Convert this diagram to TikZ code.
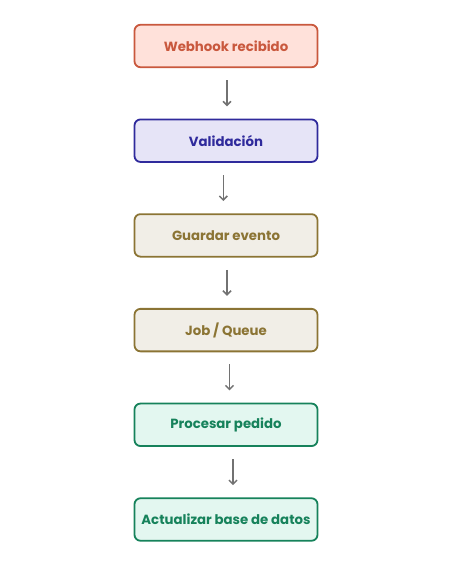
\documentclass[tikz,border=0pt]{standalone}
\usepackage{fontspec}
\setmainfont{Poppins}
\usetikzlibrary{positioning,arrows.meta}

\definecolor{webfill}{HTML}{FFE1DA}
\definecolor{webline}{HTML}{C9583D}
\definecolor{valfill}{HTML}{E6E4F7}
\definecolor{valline}{HTML}{2F2A9C}
\definecolor{jobfill}{HTML}{F1EEE7}
\definecolor{jobline}{HTML}{8B7434}
\definecolor{procfill}{HTML}{E3F7F0}
\definecolor{procline}{HTML}{16825B}
\definecolor{arrowgray}{HTML}{727272}

\begin{document}
\begin{tikzpicture}[x=1pt,y=1pt,node distance=50.4pt,
    box/.style={rectangle,rounded corners=6pt,line width=1.8pt,minimum width=183pt,minimum height=42.5pt,font=\bfseries\fontsize{13.3}{16}\selectfont},
    webbox/.style={box,draw=webline,fill=webfill,text=webline},
    valbox/.style={box,draw=valline,fill=valfill,text=valline},
    jobbox/.style={box,draw=jobline,fill=jobfill,text=jobline},
    procbox/.style={box,draw=procline,fill=procfill,text=procline},
    flow/.style={-{Straight Barb[length=4pt,width=8pt,line width=1.5pt]},arrowgray,line width=1.6pt,shorten <=12.2pt,shorten >=12.2pt}]

    \useasboundingbox (0,0) rectangle (449,-562);

    \node[webbox] (webhook) at (226,-46) {Webhook recibido};
    \node[valbox] (validacion) [below=of webhook] {Validación};
    \node[jobbox] (guardar) [below=of validacion] {Guardar evento};
    \node[jobbox] (job) [below=of guardar] {Job / Queue};
    \node[procbox] (procesar) [below=of job] {Procesar pedido};
    \node[procbox] (actualizar) [below=of procesar] {Actualizar base de datos};

    \draw[flow] ([xshift=1pt]webhook.south) to ([xshift=1pt]validacion.north);
    \draw[flow] ([xshift=-2.7pt]validacion.south) to ([xshift=-2.7pt]guardar.north);
    \draw[flow] ([xshift=1pt]guardar.south) to ([xshift=1pt]job.north);
    \draw[flow] ([xshift=3.5pt]job.south) to ([xshift=3.5pt]procesar.north);
    \draw[flow] ([xshift=7pt]procesar.south) to ([xshift=7pt]actualizar.north);

\end{tikzpicture}
\end{document}
